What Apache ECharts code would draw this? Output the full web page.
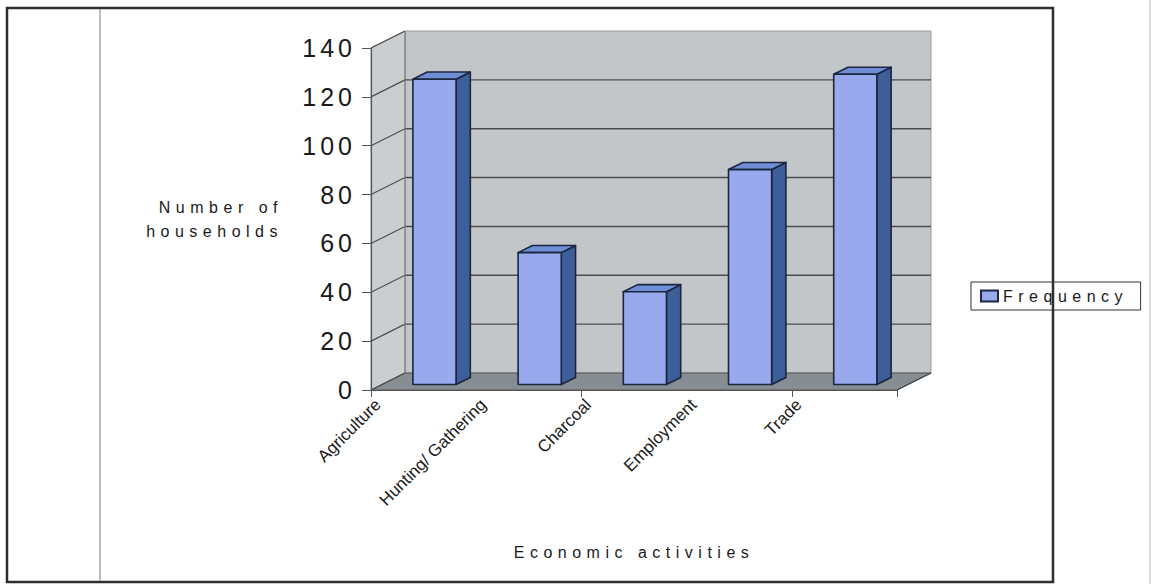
<!DOCTYPE html>
<html>
<head>
<meta charset="utf-8">
<script src="https://cdn.jsdelivr.net/npm/echarts@6/dist/echarts.min.js"></script>
<style>
  html, body { margin: 0; padding: 0; background: #ffffff; }
  #chart { width: 1154px; height: 584px; }
</style>
</head>
<body>
<div id="chart"></div>
<script>
// Households by economic activity
const categories = ['Agriculture', 'Hunting/ Gathering', 'Charcoal', 'Employment', 'Trade'];
const frequency = [125, 54, 38, 88, 127];
const yTicks = [0, 20, 40, 60, 80, 100, 120, 140];
const seriesName = 'Frequency';
const yAxisTitle = 'Number of\nhouseholds';
const xAxisTitle = 'Economic activities';

// Pseudo-3D geometry (pixels / fractions of the category band)
const DEPTH = [34, -17];      // offset from front plane to back wall
const BAR_WIDTH = 0.41;       // bar width as a share of the band
const BAR_FRONT = 0.32;       // depth of the bar front face
const BAR_BACK = 0.74;        // depth of the bar back face

const PLOT = { left: 371, top: 48, width: 526, height: 342 };
const LABEL_SHIFT = 7;        // slanted category names sit a little right of the band edges

const COLORS = {
  wall: '#c3c6c9',
  side: '#cbced0',
  floor: '#878e93',
  grid: '#4d4d4d',
  front: '#98a9ee',
  side3d: '#3d5e98',
  top3d: '#6f8ed6',
  edge: '#1b2640',
  text: '#1a1a1a'
};

const FONT = '"Liberation Sans", Arial, sans-serif';

const chart = echarts.init(document.getElementById('chart'), null, { renderer: 'svg' });

function renderWalls(params, api) {
  const cs = params.coordSys;
  const x0 = cs.x, x1 = cs.x + cs.width;
  const [dx, dy] = DEPTH;
  const yB = api.coord([0, yTicks[0]])[1];
  const yT = api.coord([0, yTicks[yTicks.length - 1]])[1];
  const children = [];
  // back wall
  children.push({
    type: 'polygon',
    shape: { points: [[x0 + dx, yT + dy], [x1 + dx, yT + dy], [x1 + dx, yB + dy], [x0 + dx, yB + dy]] },
    style: { fill: COLORS.wall, stroke: '#9a9c9e', lineWidth: 1 }
  });
  // left side wall
  children.push({
    type: 'polygon',
    shape: { points: [[x0, yT], [x0 + dx, yT + dy], [x0 + dx, yB + dy], [x0, yB]] },
    style: { fill: COLORS.side, stroke: '#8a8c8e', lineWidth: 1 }
  });
  // floor
  children.push({
    type: 'polygon',
    shape: { points: [[x0, yB], [x1, yB], [x1 + dx, yB + dy], [x0 + dx, yB + dy]] },
    style: { fill: COLORS.floor, stroke: '#555', lineWidth: 1 }
  });
  // gridlines on back wall and side wall
  yTicks.forEach(function (v) {
    const y = api.coord([0, v])[1];
    if (v > yTicks[0] && v < yTicks[yTicks.length - 1]) {
      children.push({
        type: 'line',
        shape: { x1: x0 + dx, y1: y + dy, x2: x1 + dx, y2: y + dy },
        style: { stroke: COLORS.grid, lineWidth: 1.4 }
      });
    }
    children.push({
      type: 'line',
      shape: { x1: x0, y1: y, x2: x0 + dx, y2: y + dy },
      style: { stroke: COLORS.grid, lineWidth: 1.2 }
    });
  });
  // corner between side wall and back wall
  children.push({
    type: 'line',
    shape: { x1: x0 + dx, y1: yT + dy, x2: x0 + dx, y2: yB + dy },
    style: { stroke: '#7d7f81', lineWidth: 1 }
  });
  // right edge of floor
  children.push({
    type: 'line',
    shape: { x1: x1, y1: yB, x2: x1 + dx, y2: yB + dy },
    style: { stroke: '#444', lineWidth: 1.2 }
  });
  return { type: 'group', children: children };
}

function renderBar(params, api) {
  const idx = api.value(0);
  const val = api.value(1);
  const base = api.coord([idx, 0]);
  const top = api.coord([idx, val]);
  const band = api.size([1, 0])[0];
  const w = band * BAR_WIDTH;
  const fx = base[0] - w / 2 + DEPTH[0] * BAR_FRONT;
  const fy = DEPTH[1] * BAR_FRONT;
  const bx = DEPTH[0] * (BAR_BACK - BAR_FRONT);
  const by = DEPTH[1] * (BAR_BACK - BAR_FRONT);
  const yTop = top[1] + fy;
  const yBase = base[1] + fy;
  const edge = { stroke: COLORS.edge, lineWidth: 1.6, lineJoin: 'round' };
  return {
    type: 'group',
    children: [
      {
        type: 'polygon',
        shape: { points: [[fx + w, yTop], [fx + w + bx, yTop + by], [fx + w + bx, yBase + by], [fx + w, yBase]] },
        style: Object.assign({ fill: COLORS.side3d }, edge)
      },
      {
        type: 'polygon',
        shape: { points: [[fx, yTop], [fx + bx, yTop + by], [fx + w + bx, yTop + by], [fx + w, yTop]] },
        style: Object.assign({ fill: COLORS.top3d }, edge)
      },
      {
        type: 'rect',
        shape: { x: fx, y: yTop, width: w, height: yBase - yTop },
        style: Object.assign({ fill: COLORS.front }, edge)
      }
    ]
  };
}

const option = {
  backgroundColor: '#ffffff',
  animation: false,
  grid: [
    { left: PLOT.left, top: PLOT.top, width: PLOT.width, height: PLOT.height },
    { left: PLOT.left + LABEL_SHIFT, top: PLOT.top, width: PLOT.width, height: PLOT.height }
  ],
  legend: {
    data: [seriesName],
    left: 971,
    top: 282,
    orient: 'vertical',
    padding: [6, 62, 6, 9],
    itemWidth: 17,
    itemHeight: 11,
    icon: 'rect',
    borderColor: '#333',
    borderWidth: 1,
    textStyle: { fontFamily: FONT, fontSize: 16, color: COLORS.text }
  },
  xAxis: [
    {
      type: 'category',
      gridIndex: 0,
      data: categories,
      boundaryGap: true,
      z: 10,
      axisLine: { lineStyle: { color: '#555', width: 1.2 } },
      axisTick: { show: true, length: 7, lineStyle: { color: '#555' } },
      axisLabel: { show: false },
      name: xAxisTitle,
      nameLocation: 'middle',
      nameGap: 154,
      nameTextStyle: { fontFamily: FONT, fontSize: 16, color: COLORS.text }
    },
    {
      // category names at the band edges, slanted
      type: 'category',
      gridIndex: 1,
      data: categories.concat(['']),
      boundaryGap: false,
      position: 'bottom',
      axisLine: { show: false },
      axisTick: { show: false },
      axisLabel: {
        interval: 0,
        rotate: 45,
        margin: 12,
        fontFamily: FONT,
        fontSize: 17,
        color: COLORS.text
      }
    }
  ],
  yAxis: [
    {
      type: 'value',
      gridIndex: 0,
      min: 0,
      max: 140,
      interval: 20,
      z: 10,
      axisLine: { show: true, lineStyle: { color: '#555', width: 1.2 } },
      axisTick: { show: true, length: 9, lineStyle: { color: '#555' } },
      splitLine: { show: false },
      axisLabel: { margin: 15, fontFamily: FONT, fontSize: 25, color: COLORS.text },
      name: yAxisTitle,
      nameLocation: 'middle',
      nameRotate: 0,
      nameGap: 88,
      nameTextStyle: { fontFamily: FONT, fontSize: 16, color: COLORS.text, lineHeight: 24, align: 'right' }
    },
    {
      type: 'value',
      gridIndex: 1,
      min: 0,
      max: 140,
      show: false
    }
  ],
  series: [
    {
      type: 'custom',
      name: '_walls',
      silent: true,
      z: 1,
      renderItem: renderWalls,
      data: [[0, 0]],
      encode: { x: 0, y: 1 }
    },
    {
      type: 'custom',
      name: seriesName,
      z: 3,
      renderItem: renderBar,
      itemStyle: { color: COLORS.front, borderColor: COLORS.edge, borderWidth: 1 },
      data: frequency.map(function (v, i) { return [i, v]; }),
      encode: { x: 0, y: 1 }
    }
  ],
  graphic: [
    {
      type: 'rect', z: 100, silent: true,
      shape: { x: 7, y: 8, width: 1046, height: 574 },
      style: { fill: 'none', stroke: '#2e2e2e', lineWidth: 2.5 }
    },
    {
      type: 'line', z: 100, silent: true,
      shape: { x1: 100, y1: 9, x2: 100, y2: 581 },
      style: { stroke: '#8f8f8f', lineWidth: 1.2 }
    },
    {
      type: 'line', z: 100, silent: true,
      shape: { x1: 1150, y1: 0, x2: 1150, y2: 584 },
      style: { stroke: '#b5b5b5', lineWidth: 1 }
    }
  ]
};

chart.setOption(option);

// widen the tracking of the Excel-style captions
function applyTracking() {
  const tickStrings = yTicks.map(String);
  document.querySelectorAll('#chart text').forEach(function (t) {
    const s = (t.textContent || '').trim();
    if (!s) return;
    if (categories.indexOf(s) >= 0) return;
    if (tickStrings.indexOf(s) >= 0) {
      t.style.letterSpacing = '4px';
    } else {
      t.style.letterSpacing = '5.5px';
    }
  });
}
applyTracking();
chart.on('finished', applyTracking);
</script>
</body>
</html>
